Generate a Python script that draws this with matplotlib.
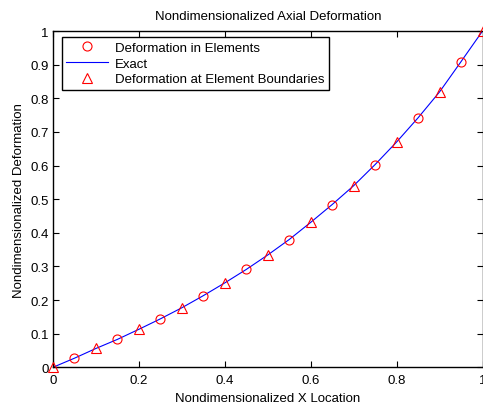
import numpy as np
import matplotlib.pyplot as plt

# Element mid-point and boundary deformations (nondimensional)
x_elem = [0.05, 0.15, 0.25, 0.35, 0.45, 0.55, 0.65, 0.75, 0.85, 0.95]
u_elem = [0.027, 0.083, 0.144, 0.213, 0.291, 0.380, 0.484, 0.603, 0.742, 0.909]
x_node = [0.0, 0.1, 0.2, 0.3, 0.4, 0.5, 0.6, 0.7, 0.8, 0.9, 1.0]
u_node = [0.0, 0.056, 0.113, 0.177, 0.251, 0.334, 0.431, 0.540, 0.670, 0.819, 1.0]

# exact curve passes through all of the above
x_exact = sorted(x_elem + x_node)
u_exact = sorted(u_elem + u_node)

plt.rcParams['font.family'] = 'Liberation Sans'
font_size = 9.5
plt.rcParams['font.size'] = font_size

fig = plt.figure(figsize=(4.83, 4.06), dpi=100)
ax = fig.add_axes([0.1097, 0.0929, 0.8893, 0.8282])

ax.plot(x_elem, u_elem, 'o', mfc='none', mec='red', ms=6.5, mew=0.8,
        label='Deformation in Elements', clip_on=False, zorder=3)
ax.plot(x_exact, u_exact, '-', color='blue', lw=0.8, label='Exact', zorder=2)
ax.plot(x_node, u_node, '^', mfc='none', mec='red', ms=7, mew=0.8,
        label='Deformation at Element Boundaries', clip_on=False, zorder=3)

ax.set_xlim(0, 1)
ax.set_ylim(0, 1)
ax.set_xticks(np.arange(0, 1.01, 0.2))
ax.set_yticks(np.arange(0, 1.01, 0.1))
ax.set_xticklabels(['0', '0.2', '0.4', '0.6', '0.8', '1'])
ax.set_yticklabels(['0', '0.1', '0.2', '0.3', '0.4', '0.5', '0.6', '0.7', '0.8', '0.9', '1'])
ax.tick_params(direction='in', top=True, right=True, length=4, width=0.8,
               labelsize=font_size)
ax.tick_params(axis='x', pad=5)
ax.tick_params(axis='y', pad=3)
for s in ax.spines.values():
    s.set_linewidth(1.0)

ax.set_title('Nondimensionalized Axial Deformation', fontsize=font_size, pad=9)
ax.set_xlabel('Nondimensionalized X Location', fontsize=font_size, labelpad=4)
ax.set_ylabel('Nondimensionalized Deformation', fontsize=font_size, labelpad=4)

legend = ax.legend(loc='upper left', bbox_to_anchor=(0.02, 0.983), fancybox=False,
                   framealpha=1, fontsize=font_size, handlelength=3.2,
                   borderpad=0.35, labelspacing=0.28, handletextpad=0.5,
                   borderaxespad=0)
frame = legend.get_frame()
frame.set_edgecolor('black')
frame.set_linewidth(1.0)

fig.savefig('out.png', dpi=100)
